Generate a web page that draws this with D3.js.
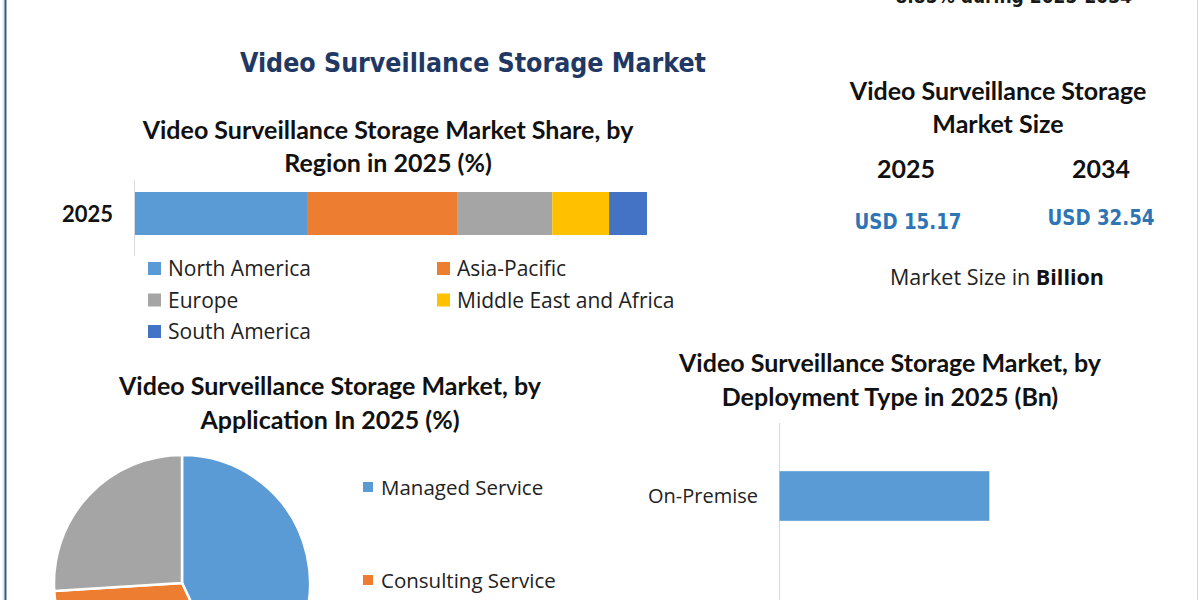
<!DOCTYPE html>
<html>
<head>
<meta charset="utf-8">
<script src="https://cdn.jsdelivr.net/npm/d3@7"></script>
<style>
  html, body { margin: 0; padding: 0; background: #ffffff; }
  svg { display: block; }
</style>
</head>
<body>
<div id="chart"></div>
<script>
// Region share (%) in 2025
var regions = ["North America", "Asia-Pacific", "Europe", "Middle East and Africa", "South America"];
var regionShare = [33.6, 29.3, 18.6, 11.1, 7.4];
var regionColors = ["#5b9bd5", "#ed7d31", "#a5a5a5", "#ffc000", "#4472c4"];

// Market size (USD Bn)
var sizeYears = ["2025", "2034"];
var sizeValues = ["USD 15.17", "USD 32.54"];

// Application share (%) in 2025
var applications = ["Managed Service", "Consulting Service", "Other Services"];
var applicationShare = [43, 31, 26];
var applicationColors = ["#5b9bd5", "#ed7d31", "#a5a5a5"];

// Deployment type (Bn) in 2025
var deployments = ["On-Premise", "Cloud"];
var deploymentValues = [8.5, 6.67];

var svgWidth = 1200;
var svgHeight = 600;
var titleFont = "Lato, 'Open Sans', sans-serif";
var bodyFont = "'Open Sans', sans-serif";
var condFont = "'DejaVu Sans Condensed', 'DejaVu Sans', sans-serif";

var svg = d3.select("#chart").append("svg")
            .attr("width", svgWidth)
            .attr("height", svgHeight);

// Frame lines
svg.append("rect").attr("x", 0).attr("y", 0).attr("width", svgWidth).attr("height", svgHeight).attr("fill", "#ffffff");
svg.append("line").attr("x1", 4).attr("x2", 4).attr("y1", 0).attr("y2", svgHeight)
   .attr("stroke", "#dbe9f6").attr("stroke-width", 3);
svg.append("line").attr("x1", 5.5).attr("x2", 5.5).attr("y1", 0).attr("y2", svgHeight)
   .attr("stroke", "#3b5a7e").attr("stroke-width", 2);
svg.append("line").attr("x1", 1197.5).attr("x2", 1197.5).attr("y1", 0).attr("y2", svgHeight)
   .attr("stroke", "#d4d8de").attr("stroke-width", 1);

// Cut-off CAGR text at the top (the reference only shows its lower half)
svg.append("text")
   .attr("x", 1132).attr("y", 3)
   .attr("text-anchor", "end")
   .attr("font-family", condFont).attr("font-weight", "bold").attr("font-size", "19px")
   .attr("fill", "#1a1a1a")
   .text("8.85% during 2025-2034");

// Main title
svg.append("text")
   .attr("x", 473).attr("y", 72)
   .attr("text-anchor", "middle")
   .attr("font-family", condFont).attr("font-weight", "bold").attr("font-size", "27px")
   .attr("fill", "#1f3864")
   .attr("textLength", 466).attr("lengthAdjust", "spacingAndGlyphs")
   .text("Video Surveillance Storage Market");

// Helper for multi line titles
function addTitle(lines, cx, y0, lineGap, size) {
  lines.forEach(function(t, i) {
    svg.append("text")
       .attr("x", cx).attr("y", y0 + i * lineGap)
       .attr("text-anchor", "middle")
       .attr("font-family", titleFont).attr("font-weight", "bold").attr("font-size", size)
       .attr("fill", "#111111")
       .text(t);
  });
}

// ---- Region stacked bar ----
addTitle(["Video Surveillance Storage Market Share, by", "Region in 2025 (%)"], 388, 139, 33, "25px");

var xShare = d3.scaleLinear().domain([0, d3.sum(regionShare)]).range([135, 647]);
var yShare = d3.scaleBand().domain(["2025"]).range([180, 247]).paddingInner(0).paddingOuter(0.279);

svg.append("line").attr("x1", 134.5).attr("x2", 134.5).attr("y1", 180).attr("y2", 256)
   .attr("stroke", "#d9d9d9");

var cum = 0;
var stackData = regionShare.map(function(v, i) {
  var d = { name: regions[i], x0: cum, x1: cum + v, color: regionColors[i] };
  cum += v;
  return d;
});

svg.selectAll("rect.share")
   .data(stackData)
   .enter()
   .append("rect")
   .attr("class", "share")
   .attr("x", function(d) { return xShare(d.x0); })
   .attr("y", yShare("2025"))
   .attr("width", function(d) { return xShare(d.x1) - xShare(d.x0); })
   .attr("height", yShare.bandwidth())
   .attr("fill", function(d) { return d.color; });

svg.append("text")
   .attr("x", 113).attr("y", yShare("2025") + yShare.bandwidth() / 2 + 8)
   .attr("text-anchor", "end")
   .attr("font-family", titleFont).attr("font-weight", "bold").attr("font-size", "22px")
   .attr("fill", "#111111")
   .text("2025");

// Region legend, two columns
var legend = svg.selectAll("g.reglegend")
                .data(regions)
                .enter()
                .append("g")
                .attr("class", "reglegend")
                .attr("transform", function(d, i) {
                  var col = i % 2, row = Math.floor(i / 2);
                  return "translate(" + (148 + col * 289) + "," + (268 + row * 31.5) + ")";
                });
legend.append("rect")
      .attr("x", 0).attr("y", -6).attr("width", 13).attr("height", 13)
      .attr("fill", function(d, i) { return regionColors[i]; });
legend.append("text")
      .attr("x", 20).attr("y", 8)
      .attr("font-family", bodyFont).attr("font-size", "21px")
      .attr("fill", "#222222")
      .text(function(d) { return d; });

// ---- Market size panel ----
addTitle(["Video Surveillance Storage", "Market Size"], 998, 100, 33, "25px");

var xYears = d3.scalePoint().domain(sizeYears).range([906, 1101]);

svg.selectAll("text.year")
   .data(sizeYears)
   .enter()
   .append("text")
   .attr("class", "year")
   .attr("x", function(d) { return xYears(d); })
   .attr("y", 178)
   .attr("text-anchor", "middle")
   .attr("font-family", titleFont).attr("font-weight", "bold").attr("font-size", "25px")
   .attr("fill", "#111111")
   .text(function(d) { return d; });

svg.selectAll("text.usd")
   .data(sizeValues)
   .enter()
   .append("text")
   .attr("class", "usd")
   .attr("x", function(d, i) { return xYears(sizeYears[i]) + (i === 0 ? 2 : 0); })
   .attr("y", function(d, i) { return i === 0 ? 229 : 225; })
   .attr("text-anchor", "middle")
   .attr("font-family", condFont).attr("font-weight", "bold").attr("font-size", "21px")
   .attr("fill", "#2e75b6")
   .attr("textLength", 107).attr("lengthAdjust", "spacingAndGlyphs")
   .text(function(d) { return d; });

var msText = svg.append("text")
   .attr("x", 997).attr("y", 285)
   .attr("text-anchor", "middle")
   .attr("font-family", bodyFont).attr("font-size", "21.5px")
   .attr("fill", "#222222");
msText.append("tspan").text("Market Size in ");
msText.append("tspan").attr("font-weight", "bold").attr("fill", "#111111").text("Billion");

// ---- Application pie ----
addTitle(["Video Surveillance Storage Market, by", "Application In 2025 (%)"], 330, 395, 34, "25px");

var pie = d3.pie().sort(null).value(function(d) { return d; });
var arc = d3.arc().innerRadius(0).outerRadius(128);
var pieG = svg.append("g").attr("transform", "translate(182,583)");

pieG.selectAll("path")
    .data(pie(applicationShare))
    .enter()
    .append("path")
    .attr("d", arc)
    .attr("fill", function(d, i) { return applicationColors[i]; })
    .attr("stroke", "#ffffff")
    .attr("stroke-width", 2.5);

var pieLegend = svg.selectAll("g.pielegend")
                   .data(applications.filter(function(d, i) { return 487 + i * 93 < svgHeight; }))
                   .enter()
                   .append("g")
                   .attr("class", "pielegend")
                   .attr("transform", function(d, i) { return "translate(363," + (487 + i * 93) + ")"; });
pieLegend.append("rect")
         .attr("x", 0).attr("y", -5).attr("width", 10).attr("height", 10)
         .attr("fill", function(d, i) { return applicationColors[i]; });
pieLegend.append("text")
         .attr("x", 18).attr("y", 8)
         .attr("font-family", bodyFont).attr("font-size", "20.5px")
         .attr("fill", "#222222")
         .text(function(d) { return d; });

// ---- Deployment bar chart ----
addTitle(["Video Surveillance Storage Market, by", "Deployment Type in 2025 (Bn)"], 890, 372, 34, "25px");

var xDep = d3.scaleLinear().domain([0, 16]).range([779, 1174]);
var yDep = d3.scaleBand().domain(deployments).range([423, 715]).paddingInner(0.66).paddingOuter(0.33);

svg.append("line").attr("x1", 779.5).attr("x2", 779.5).attr("y1", 423).attr("y2", svgHeight)
   .attr("stroke", "#d9d9d9");

svg.selectAll("rect.dep")
   .data(deploymentValues)
   .enter()
   .append("rect")
   .attr("class", "dep")
   .attr("x", xDep(0) + 0.5)
   .attr("y", function(d, i) { return yDep(deployments[i]); })
   .attr("width", function(d) { return xDep(d) - xDep(0); })
   .attr("height", yDep.bandwidth())
   .attr("fill", "#5b9bd5");

svg.selectAll("text.deplabel")
   .data(deployments.filter(function(d) { return yDep(d) + yDep.bandwidth() / 2 < svgHeight; }))
   .enter()
   .append("text")
   .attr("class", "deplabel")
   .attr("x", 758)
   .attr("y", function(d) { return yDep(d) + yDep.bandwidth() / 2 + 7; })
   .attr("text-anchor", "end")
   .attr("font-family", bodyFont).attr("font-size", "20px")
   .attr("fill", "#222222")
   .text(function(d) { return d; });
</script>
</body>
</html>
